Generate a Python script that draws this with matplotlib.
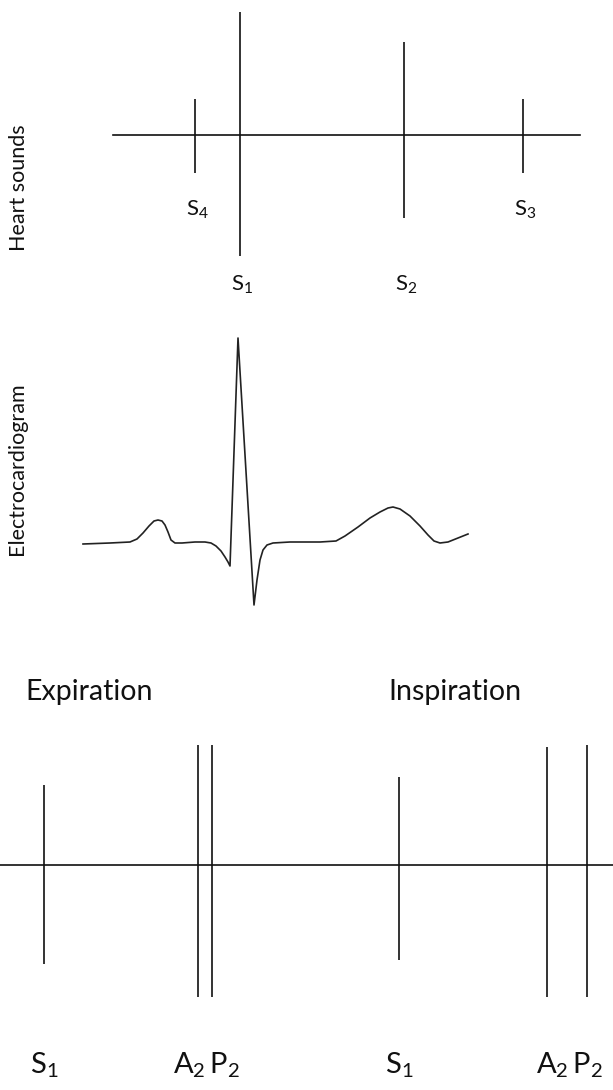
import numpy as np
import matplotlib
matplotlib.use('Agg')
import matplotlib.pyplot as plt

plt.rcParams['font.family'] = ['Lato', 'DejaVu Sans']
plt.rcParams['mathtext.fontset'] = 'custom'
plt.rcParams['mathtext.rm'] = 'Lato'
plt.rcParams['mathtext.it'] = 'Lato:italic'
plt.rcParams['mathtext.bf'] = 'Lato:bold'

# heart sounds panel (pixel units of the drawing)
hs_names = ['S_4', 'S_1', 'S_2', 'S_3']
hs_x = [195, 240, 404, 523]
hs_top = [99, 12, 42, 99]
hs_bot = [173, 256, 218, 173]
hs_lab_y = [210, 285, 285, 210]
hs_base = 135

# ecg trace
ecg_x = [83, 110, 130, 137, 143, 149, 154, 158, 162, 165, 168, 171, 175, 182,
         195, 205, 211, 216, 221, 225, 228, 230, 238, 254, 257, 260, 263, 267,
         273, 290, 320, 336, 345, 358, 370, 380, 388, 393, 400, 410, 420, 428,
         434, 440, 448, 458, 468]
ecg_y = [544, 543, 542, 539, 533, 526, 521, 520, 521, 525, 532, 540, 543, 543,
         542, 542, 543, 546, 551, 557, 562, 566, 338, 605, 580, 560, 550, 545,
         543, 542, 542, 541, 536, 527, 518, 512, 508, 507, 509, 516, 526, 535,
         541, 543, 542, 538, 534]

# split S2 panel
sp_x = [44, 198, 212, 399, 547, 587]
sp_top = [785, 745, 745, 777, 747, 745]
sp_bot = [964, 997, 997, 960, 997, 997]
sp_base = 865
sp_labels = ['S_1', 'A_2\\,P_2', 'S_1', 'A_2\\,P_2']
sp_lab_x = [44, 206, 399, 569]
phases = ['Expiration', 'Inspiration']
phase_x = [25, 388]

fig = plt.figure(figsize=(6.13, 10.9), dpi=100)
ax = fig.add_axes([0, 0, 1, 1])
ax.set_xlim(0, 613)
ax.set_ylim(1090, 0)
ax.axis('off')

col = '#111111'
lw = 1.2

# heart sounds
ax.plot([113, 580], [hs_base, hs_base], color=col, lw=lw)
ax.vlines(hs_x, hs_top, hs_bot, color=col, lw=lw)
for n, x, y in zip(hs_names, hs_x, hs_lab_y):
    ax.text(x + 2, y, '$\\mathrm{%s}$' % n, fontsize=16, ha='center', va='center', color=col)
ax.text(19, 188, 'Heart sounds', rotation=90, fontsize=15.5, ha='center', va='center', color=col)

# ecg
ax.plot(ecg_x, ecg_y, color='#222222', lw=1.2, solid_joinstyle='round')
ax.text(17, 469, 'Electrocardiogram', rotation=90, fontsize=15.5, ha='center', va='center', color=col)

# split second sound
ax.plot([0, 613], [sp_base, sp_base], color=col, lw=lw)
ax.vlines(sp_x, sp_top, sp_bot, color=col, lw=lw)
for p, x in zip(phases, phase_x):
    ax.text(x, 692, p, fontsize=20.5, ha='left', va='center', color=col)
for l, x in zip(sp_labels, sp_lab_x):
    ax.text(x, 1073, '$\\mathrm{%s}$' % l, fontsize=21, ha='center', va='baseline', color=col)

fig.savefig('out.png', dpi=100)
